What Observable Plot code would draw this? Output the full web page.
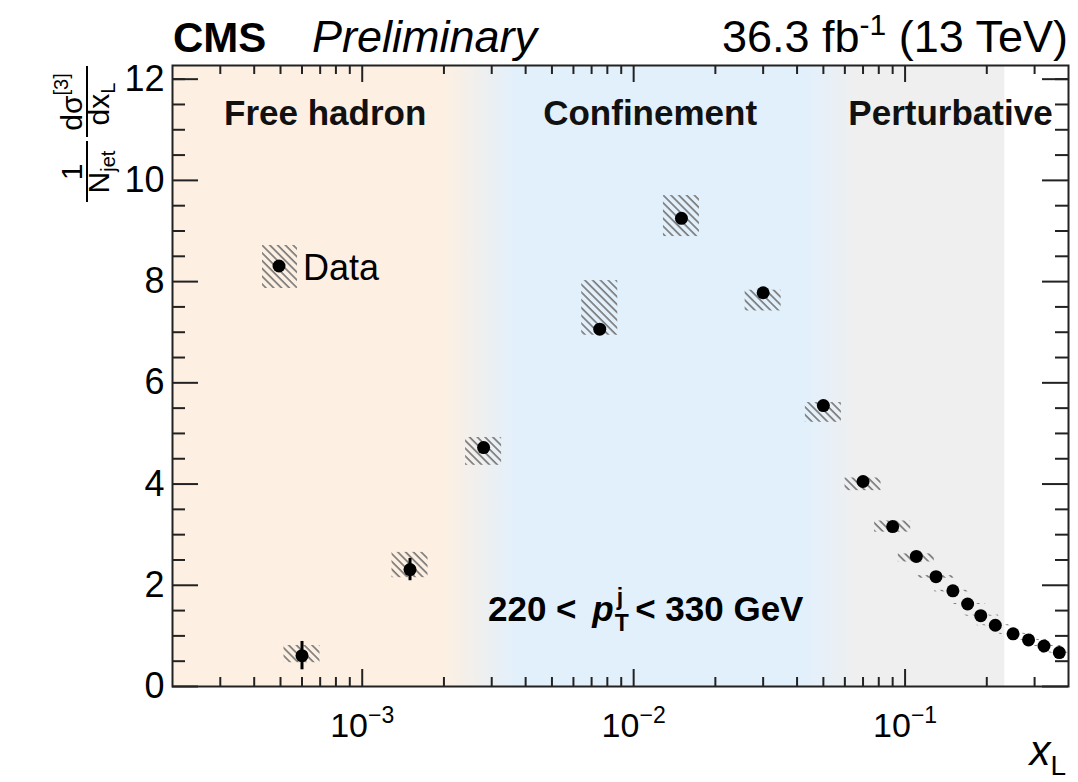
<!DOCTYPE html>
<html><head><meta charset="utf-8">
<script src="https://cdn.jsdelivr.net/npm/d3@7"></script>
<script src="https://cdn.jsdelivr.net/npm/@observablehq/plot@0.6"></script>
<style>body{margin:0;background:#fff} svg{display:block}</style>
</head><body><div id="chart"></div>
<script>
// ---- data ----
const xL       = [6e-4, 1.5e-3, 2.8e-3, 7.5e-3, 0.015, 0.03, 0.05, 0.07, 0.09, 0.11, 0.13, 0.15, 0.17, 0.19, 0.215, 0.25, 0.285, 0.325, 0.37];
const yVal     = [0.61, 2.31, 4.72, 7.06, 9.25, 7.78, 5.55, 4.05, 3.16, 2.57, 2.17, 1.89, 1.63, 1.40, 1.21, 1.04, 0.92, 0.80, 0.67];
const statErr  = [0.28, 0.22, 0.06, 0.05, 0.05, 0.04, 0.04, 0.03, 0.03, 0.03, 0.03, 0.02, 0.02, 0.02, 0.02, 0.02, 0.02, 0.02, 0.02];
const systUp   = [0.20, 0.34, 0.20, 0.96, 0.45, 0.05, 0.06, 0.07, 0.11, 0.05, 0.02, 0.01, 0.01, 0.01, 0.01, 0.01, 0.01, 0.01, 0.01];
const systDown = [0.14, 0.16, 0.35, 0.12, 0.36, 0.36, 0.33, 0.18, 0.11, 0.11, 0.03, 0.02, 0.01, 0.01, 0.01, 0.01, 0.01, 0.01, 0.01];

const xMajorTicks = [1e-3, 1e-2, 1e-1];
const xMajorLabels = ["10^−3", "10^−2", "10^−1"];
const xMinorTicks = [3e-4,4e-4,5e-4,6e-4,7e-4,8e-4,9e-4, 2e-3,3e-3,4e-3,5e-3,6e-3,7e-3,8e-3,9e-3, 2e-2,3e-2,4e-2,5e-2,6e-2,7e-2,8e-2,9e-2, 2e-1,3e-1];
const yMajorTicks = [0, 2, 4, 6, 8, 10, 12];
const yMinorTicks = [0.5,1,1.5,2.5,3,3.5,4.5,5,5.5,6.5,7,7.5,8.5,9,9.5,10.5,11,11.5,12];

const regionNames = ["Free hadron", "Confinement", "Perturbative"];
const regionLabelX = [7.3e-4, 0.0115, 0.147];
const bgStops = [[2e-4, "#fdf0e2"], [2.0e-3, "#fdf0e2"], [2.75e-3, "#efefef"], [3.7e-3, "#e2f0fc"], [0.043, "#e2f0fc"], [0.066, "#efefef"], [0.233, "#efefef"]];

// ---- layout ----
const W = 1078, H = 782, mL = 172, mR = 10, mT = 65, mB = 96;
const innerW = W - mL - mR, innerH = H - mT - mB;
const boxFactor = 1.165;
const idx = d3.range(xL.length);
const font = "'Liberation Sans', Arial, Helvetica, sans-serif";

const plot = Plot.plot({
  width: W, height: H, marginLeft: mL, marginRight: mR, marginTop: mT, marginBottom: mB,
  style: {fontFamily: font, background: "transparent", color: "#000", overflow: "visible"},
  x: {type: "log", domain: [2e-4, 0.4]},
  y: {domain: [0, 12.27]},
  marks: [
    Plot.rect([0], {x1: bgStops[0][0], x2: bgStops[bgStops.length - 1][0], fill: "url(#bgGrad)"}),
    Plot.rect(idx, {x1: i => xL[i] / boxFactor, x2: i => xL[i] * boxFactor,
                    y1: i => yVal[i] - systDown[i], y2: i => yVal[i] + systUp[i], fill: "url(#hatch)", clip: true}),
    Plot.ruleX(idx, {x: i => xL[i], y1: i => yVal[i] - statErr[i], y2: i => yVal[i] + statErr[i], stroke: "#000", strokeWidth: 3}),
    Plot.dot(idx, {x: i => xL[i], y: i => yVal[i], r: 6.5, fill: "#000", stroke: null}),
    Plot.text(regionNames, {x: (d, i) => regionLabelX[i], y: 11.32, text: d => d, fontSize: 35, fontWeight: "bold", fill: "#111", lineAnchor: "middle"}),
    // inward ticks (bottom / top / left / right)
    Plot.ruleX(xMajorTicks, {x: d => d, insetTop: innerH - 17, stroke: "#222", strokeWidth: 2}),
    Plot.ruleX(xMinorTicks, {x: d => d, insetTop: innerH - 9, stroke: "#222", strokeWidth: 2}),
    Plot.ruleX(xMajorTicks, {x: d => d, insetBottom: innerH - 17, stroke: "#222", strokeWidth: 2}),
    Plot.ruleX(xMinorTicks, {x: d => d, insetBottom: innerH - 9, stroke: "#222", strokeWidth: 2}),
    Plot.ruleY(yMajorTicks, {y: d => d, insetRight: innerW - 26, stroke: "#222", strokeWidth: 2}),
    Plot.ruleY(yMinorTicks, {y: d => d, insetRight: innerW - 13, stroke: "#222", strokeWidth: 2}),
    Plot.ruleY(yMajorTicks, {y: d => d, insetLeft: innerW - 26, stroke: "#222", strokeWidth: 2}),
    Plot.ruleY(yMinorTicks, {y: d => d, insetLeft: innerW - 13, stroke: "#222", strokeWidth: 2}),
    Plot.frame({stroke: "#222", strokeWidth: 2}),
    Plot.axisX({ticks: xMajorTicks, tickSize: 0, tickPadding: 26, fontSize: 34, label: null,
                tickFormat: d => xMajorLabels[xMajorTicks.indexOf(d)]}),
    Plot.axisY({ticks: yMajorTicks, tickSize: 0, tickPadding: 8, fontSize: 36, label: null})
  ]
});

const svg = d3.select(plot);
const xs = plot.scale("x");

// defs: hatch pattern + background gradient
const defs = svg.insert("defs", ":first-child");
const pat = defs.append("pattern").attr("id", "hatch").attr("patternUnits", "userSpaceOnUse")
  .attr("width", 5.5).attr("height", 5.5).attr("patternTransform", "rotate(-45)");
pat.append("line").attr("x1", 1).attr("y1", 0).attr("x2", 1).attr("y2", 5.5)
  .attr("stroke", "#7a7a7a").attr("stroke-width", 1.7);
const g0 = xs.apply(bgStops[0][0]), g1 = xs.apply(bgStops[bgStops.length - 1][0]);
const grad = defs.append("linearGradient").attr("id", "bgGrad").attr("x1", 0).attr("x2", 1).attr("y1", 0).attr("y2", 0);
for (const [v, c] of bgStops) {
  grad.append("stop").attr("offset", (xs.apply(v) - g0) / (g1 - g0)).attr("stop-color", c);
}

// superscripted x tick labels (10^−n)
svg.selectAll("g[aria-label='x-axis tick label'] text").each(function () {
  const t = d3.select(this);
  const [base, sup] = t.text().split("^");
  t.text(base);
  t.append("tspan").attr("font-size", 23).attr("dy", "-0.6em").text(sup);
});

function txt(attrs, content) {
  const t = svg.append("text").attr("font-family", font).attr("fill", "#000").attr("text-anchor", "start");
  for (const k in attrs) t.attr(k, attrs[k]);
  if (content != null) t.text(content);
  return t;
}

// header
txt({x: 173, y: 52, "font-size": 42, "font-weight": "bold"}, "CMS");
txt({x: 312, y: 52, "font-size": 45, "font-style": "italic"}, "Preliminary");
const lumi = txt({x: 1068, y: 52, "font-size": 45, "text-anchor": "end"}, "36.3 fb");
lumi.append("tspan").attr("font-size", 30).attr("dy", -17).text("-1");
lumi.append("tspan").attr("dy", 17).text(" (13 TeV)");

// y-axis title: 1/N_jet  dσ^[3]/dx_L  (rotated)
txt({transform: "translate(82,172) rotate(-90)", "font-size": 30, "text-anchor": "middle"}, "1");
txt({transform: "translate(109,172) rotate(-90)", "font-size": 30, "text-anchor": "middle"}, "N")
  .append("tspan").attr("font-size", 20).attr("dy", 6).text("jet");
const num = txt({transform: "translate(82,102) rotate(-90)", "font-size": 30, "text-anchor": "middle"}, "dσ");
num.append("tspan").attr("font-size", 20).attr("dy", -14).text("[3]");
txt({transform: "translate(109,104) rotate(-90)", "font-size": 30, "text-anchor": "middle"}, "dx")
  .append("tspan").attr("font-size", 20).attr("dy", 6).text("L");
svg.append("line").attr("x1", 87).attr("x2", 87).attr("y1", 141).attr("y2", 202).attr("stroke", "#000").attr("stroke-width", 2);
svg.append("line").attr("x1", 87).attr("x2", 87).attr("y1", 66).attr("y2", 137).attr("stroke", "#000").attr("stroke-width", 2);

// x-axis title
const xt = txt({x: 1066, y: 765, "font-size": 42, "text-anchor": "end", "font-style": "italic"}, "x");
xt.append("tspan").attr("font-size", 28).attr("font-style", "normal").attr("dy", 10).text("L");

// pT annotation
const pt = txt({x: 488, y: 621, "font-size": 35, "font-weight": "bold"}, "220 < ");
pt.append("tspan").attr("font-style", "italic").attr("dx", 6).text("p");
pt.append("tspan").attr("font-size", 23).attr("dy", 10).attr("dx", 1).text("T");
pt.append("tspan").attr("font-size", 23).attr("dy", -26).attr("dx", -12).text("j");
pt.append("tspan").attr("dy", 16).attr("dx", 12).text("< 330 GeV");

// legend
svg.append("rect").attr("x", 262).attr("y", 245).attr("width", 35).attr("height", 43).attr("fill", "url(#hatch)");
svg.append("circle").attr("cx", 279).attr("cy", 266).attr("r", 6.5).attr("fill", "#000");
txt({x: 303, y: 280, "font-size": 36}, "Data");

document.getElementById("chart").appendChild(plot);
</script>
</body></html>
